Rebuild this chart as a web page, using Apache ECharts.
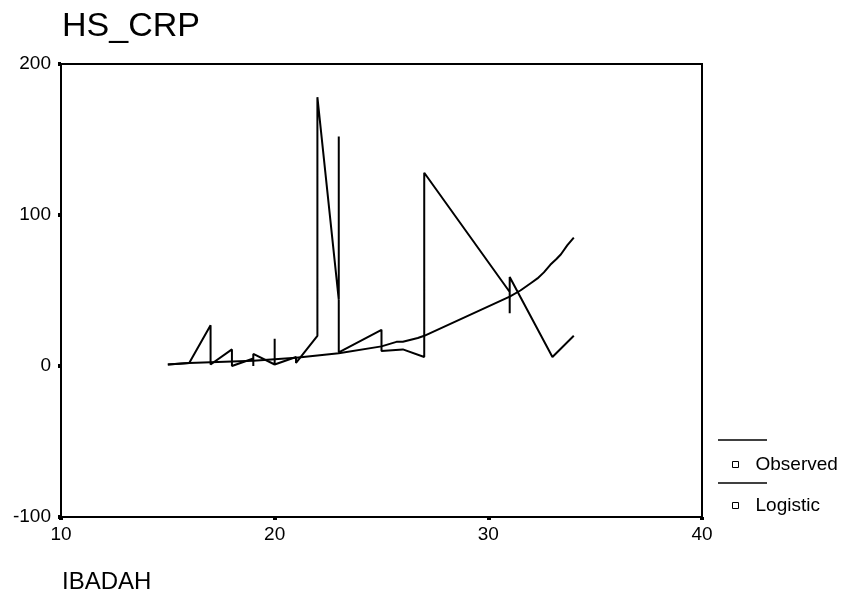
<!DOCTYPE html>
<html>
<head>
<meta charset="utf-8">
<script src="https://cdn.jsdelivr.net/npm/echarts@6/dist/echarts.min.js"></script>
<style>
  html, body { margin: 0; padding: 0; background: #fff; }
  #main { width: 847px; height: 608px; }
</style>
</head>
<body>
<div id="main"></div>
<script>
// observed HS_CRP by IBADAH (in drawing order)
const obsX = [15, 16, 17, 17, 18, 18, 19, 19, 19, 20, 20, 20, 21, 21, 22, 22, 23, 23, 23, 25, 25, 26, 27, 27, 31, 31, 31, 33, 34]
const obsY = [1, 2, 27, 1, 11, 0, 5, 0, 8, 1, 18, 1, 6, 2, 20, 178, 44, 152, 9, 24, 10, 11, 6, 128, 49, 35, 59, 6, 20]
// logistic fit
const logX = [15, 16, 17, 18, 19, 20, 21, 22, 23, 25, 25.7, 26, 26.7, 27, 31, 31.5, 32, 32.3, 32.6, 32.9, 33.2, 33.4, 33.7, 34]
const logY = [1, 2, 2.5, 3, 3.5, 4.5, 5.5, 7, 8.5, 13, 16, 16, 18.5, 20, 46, 50, 55, 58, 62, 67, 71, 74, 80, 85]

const FONT = "'Liberation Sans', Arial, sans-serif"

const chart = echarts.init(document.getElementById('main'))
const option = {
  animation: false,
  backgroundColor: '#fff',
  title: [
    {
      text: 'HS_CRP',
      left: 57,
      top: 5,
      textStyle: {fontFamily: FONT, fontSize: 34, fontWeight: 'normal', color: '#000'}
    },
    {
      text: 'IBADAH',
      left: 57,
      top: 565,
      textStyle: {fontFamily: FONT, fontSize: 24, fontWeight: 'normal', color: '#000'}
    }
  ],
  grid: {
    left: 61,
    right: 145,
    top: 64,
    bottom: 91,
    show: true,
    borderColor: '#000',
    borderWidth: 2,
    backgroundColor: '#fff'
  },
  legend: {
    orient: 'vertical',
    left: 727,
    top: 450,
    itemGap: 22,
    itemWidth: 6,
    itemHeight: 6,
    icon: 'rect',
    textStyle: {fontFamily: FONT, fontSize: 19, color: '#000', padding: [0, 0, 0, 12]},
    data: [
      {name: 'Observed', itemStyle: {color: '#fff', borderColor: '#000', borderWidth: 1}},
      {name: 'Logistic', itemStyle: {color: '#fff', borderColor: '#000', borderWidth: 1}}
    ]
  },
  graphic: [
    {type: 'line', shape: {x1: 718, y1: 440, x2: 767, y2: 440}, style: {stroke: '#000', lineWidth: 1.5}},
    {type: 'line', shape: {x1: 718, y1: 483, x2: 767, y2: 483}, style: {stroke: '#000', lineWidth: 1.5}}
  ],
  xAxis: {
    type: 'value',
    min: 10,
    max: 40,
    interval: 10,
    splitLine: {show: false},
    axisLine: {onZero: false, lineStyle: {color: '#000', width: 2}},
    axisTick: {length: 3, lineStyle: {color: '#000', width: 4}},
    axisLabel: {fontFamily: FONT, fontSize: 19, color: '#000', margin: 8}
  },
  yAxis: {
    type: 'value',
    min: -100,
    max: 200,
    interval: 100,
    splitLine: {show: false},
    axisLine: {onZero: false, lineStyle: {color: '#000', width: 2}},
    axisTick: {length: 3, lineStyle: {color: '#000', width: 4}},
    axisLabel: {fontFamily: FONT, fontSize: 19, color: '#000', margin: 10}
  },
  series: [
    {
      name: 'Observed',
      type: 'line',
      showSymbol: false,
      symbol: 'none',
      data: obsX.map((x, i) => [x, obsY[i]]),
      lineStyle: {color: '#000', width: 2},
      itemStyle: {color: '#000'}
    },
    {
      name: 'Logistic',
      type: 'line',
      showSymbol: false,
      symbol: 'none',
      data: logX.map((x, i) => [x, logY[i]]),
      lineStyle: {color: '#000', width: 2},
      itemStyle: {color: '#000'}
    }
  ]
}
chart.setOption(option)
</script>
</body>
</html>
